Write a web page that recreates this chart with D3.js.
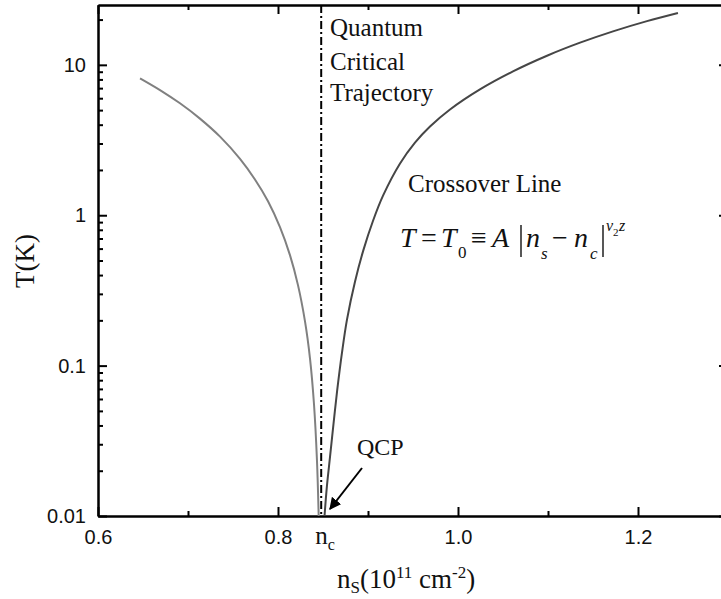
<!DOCTYPE html>
<html>
<head>
<meta charset="utf-8">
<script src="https://cdn.jsdelivr.net/npm/d3@7"></script>
<style>
  body { margin: 0; background: #fff; }
  .tick text { font-family: "Liberation Sans", Arial, sans-serif; font-size: 20px; fill: #111; }
  .serif { font-family: "Liberation Serif", "Times New Roman", serif; fill: #111; }
</style>
</head>
<body>
<svg id="chart" width="721" height="599"></svg>
<script>
// Values
const nc = 0.848;                 // critical density (dash-dot line)
const leftN  = [0.6467, 0.6689, 0.6911, 0.7133, 0.7356, 0.7578, 0.7744, 0.7889, 0.8022, 0.8133,
                0.8222, 0.830, 0.8356, 0.840, 0.8433, 0.8452];
const leftT  = [8.14, 6.80, 5.55, 4.39, 3.33, 2.37, 1.73, 1.24, 0.834, 0.543,
                0.343, 0.197, 0.111, 0.0553, 0.0234, 0.010];
const rightN = [0.8517, 0.8544, 0.8578, 0.8617, 0.8656, 0.8711, 0.8767, 0.8856, 0.8948, 0.9056, 0.9167,
                0.9356, 0.9522, 0.9689, 0.9911, 1.0244, 1.0611, 1.0989, 1.1356, 1.1722, 1.21, 1.2444];
const rightT = [0.010, 0.0159, 0.0247, 0.0411, 0.0671, 0.122, 0.203, 0.363, 0.584, 0.919, 1.35,
                2.21, 3.04, 3.89, 5.05, 6.87, 9.05, 11.5, 14.04, 16.7, 19.53, 22.14];

const xMajor = [0.6, 0.8, 1.0, 1.2];
const xMinor = [0.7, 0.9, 1.1];
const yMajor = [0.01, 0.1, 1, 10];
const yLabels = ["0.01", "0.1", "1", "10"];
const yMinor = [];
[0.01, 0.1, 1, 10].forEach(d => { for (let k = 2; k <= 9; k++) if (d * k <= 25) yMinor.push(d * k); });

const svg = d3.select("#chart");
const margin = {left: 98, top: 5, right: 728, bottom: 516};

const x = d3.scaleLinear().domain([0.6, 1.3]).range([margin.left, margin.right]);
const y = d3.scaleLog().domain([0.01, 25]).range([margin.bottom, margin.top]);

svg.append("clipPath").attr("id", "plot")
  .append("rect")
  .attr("x", margin.left).attr("y", margin.top)
  .attr("width", margin.right - margin.left).attr("height", margin.bottom - margin.top);

// axes (ticks point inward)
const styleAxis = g => {
  g.selectAll("path, line").attr("stroke", "#000").attr("stroke-width", 2);
};

svg.append("g").attr("transform", `translate(0,${margin.bottom})`)
  .call(d3.axisBottom(x).tickValues(xMajor).tickFormat(d3.format(".1f"))
    .tickSizeInner(-9).tickSizeOuter(0).tickPadding(14))
  .call(styleAxis);
svg.append("g").attr("transform", `translate(0,${margin.bottom})`)
  .call(d3.axisBottom(x).tickValues(xMinor).tickFormat("").tickSizeInner(-5).tickSizeOuter(0))
  .call(styleAxis);

svg.append("g").attr("transform", `translate(0,${margin.top})`)
  .call(d3.axisTop(x).tickValues(xMajor).tickFormat("").tickSizeInner(-9).tickSizeOuter(0))
  .call(styleAxis);
svg.append("g").attr("transform", `translate(0,${margin.top})`)
  .call(d3.axisTop(x).tickValues(xMinor).tickFormat("").tickSizeInner(-5).tickSizeOuter(0))
  .call(styleAxis);

svg.append("g").attr("transform", `translate(${margin.left},0)`)
  .call(d3.axisLeft(y).tickValues(yMajor).tickFormat((d, i) => yLabels[i])
    .tickSizeInner(-9).tickSizeOuter(0).tickPadding(12))
  .call(styleAxis);
svg.append("g").attr("transform", `translate(${margin.left},0)`)
  .call(d3.axisLeft(y).tickValues(yMinor).tickFormat("").tickSizeInner(-5).tickSizeOuter(0))
  .call(styleAxis);

svg.append("g").attr("transform", `translate(${margin.right},0)`)
  .call(d3.axisRight(y).tickValues(yMajor).tickFormat("").tickSizeInner(-9).tickSizeOuter(0))
  .call(styleAxis);
svg.append("g").attr("transform", `translate(${margin.right},0)`)
  .call(d3.axisRight(y).tickValues(yMinor).tickFormat("").tickSizeInner(-5).tickSizeOuter(0))
  .call(styleAxis);

// curves
const line = d3.line().x(d => x(d[0])).y(d => y(d[1])).curve(d3.curveCatmullRom.alpha(0.5));
const plot = svg.append("g").attr("clip-path", "url(#plot)");

plot.append("path")
  .datum(leftN.map((n, i) => [n, leftT[i]]))
  .attr("d", line).attr("fill", "none")
  .attr("stroke", "#808080").attr("stroke-width", 2);

plot.append("path")
  .datum(rightN.map((n, i) => [n, rightT[i]]))
  .attr("d", line).attr("fill", "none")
  .attr("stroke", "#464646").attr("stroke-width", 2);

// quantum critical trajectory
plot.append("line")
  .attr("x1", x(nc)).attr("x2", x(nc))
  .attr("y1", margin.top).attr("y2", margin.bottom)
  .attr("stroke", "#000").attr("stroke-width", 2)
  .attr("stroke-dasharray", "8,3,2,3");

// annotations
const ann = (t, px, py, size, style) => svg.append("text").attr("class", "serif")
  .attr("x", px).attr("y", py).attr("font-size", size)
  .attr("font-style", style || "normal").text(t);

ann("Quantum", 330, 36, 25);
ann("Critical", 330, 70, 25);
ann("Trajectory", 330, 101, 25);
ann("Crossover Line", 408, 192, 25);
ann("QCP", 357, 455, 24);

// formula T = T0 ≡ A|ns − nc|^(ν2 z)
ann("T", 400, 247, 28, "italic");
ann("=", 421, 247, 28);
ann("T", 441, 247, 28, "italic");
ann("0", 458, 258, 17);
ann("\u2261", 471, 247, 28);
ann("A", 492, 247, 28, "italic");
ann("n", 526, 247, 28, "italic");
ann("s", 541, 259, 17, "italic");
ann("\u2212", 552, 247, 28);
ann("n", 574, 247, 28, "italic");
ann("c", 590, 259, 17, "italic");
ann("\u03bd", 606, 231, 16, "italic");
ann("2", 613, 236, 11);
ann("z", 619, 231, 16, "italic");
[521, 603].forEach(px => svg.append("line")
  .attr("x1", px).attr("x2", px).attr("y1", 225).attr("y2", 257)
  .attr("stroke", "#111").attr("stroke-width", 1.4));

// arrow to the QCP
svg.append("defs").append("marker")
  .attr("id", "head").attr("viewBox", "0 0 10 10")
  .attr("refX", 9).attr("refY", 5)
  .attr("markerWidth", 6).attr("markerHeight", 6)
  .attr("orient", "auto")
  .append("path").attr("d", "M0,0 L10,5 L0,10 Z").attr("fill", "#000");
svg.append("line")
  .attr("x1", 362).attr("y1", 468).attr("x2", 330).attr("y2", 509)
  .attr("stroke", "#000").attr("stroke-width", 2)
  .attr("marker-end", "url(#head)");

// n_c label under the axis
const ncLab = svg.append("text").attr("class", "serif")
  .attr("x", x(nc) - 6).attr("y", 544).attr("font-size", 25);
ncLab.append("tspan").text("n");
ncLab.append("tspan").attr("font-size", 16).attr("dy", 6).text("c");

// axis titles
const xt = svg.append("text").attr("class", "serif")
  .attr("x", 337).attr("y", 588).attr("font-size", 27);
xt.append("tspan").text("n");
xt.append("tspan").attr("font-size", 17).attr("dy", 5).text("S");
xt.append("tspan").attr("dy", -5).text("(10");
xt.append("tspan").attr("font-size", 17).attr("dy", -10).text("11");
xt.append("tspan").attr("dy", 10).text(" cm");
xt.append("tspan").attr("font-size", 17).attr("dy", -10).text("-2");
xt.append("tspan").attr("dy", 10).text(")");

svg.append("text").attr("class", "serif")
  .attr("transform", "translate(34,261) rotate(-90)")
  .attr("text-anchor", "middle").attr("font-size", 27)
  .attr("fill", "#2a2020")
  .text("T(K)");
</script>
</body>
</html>
